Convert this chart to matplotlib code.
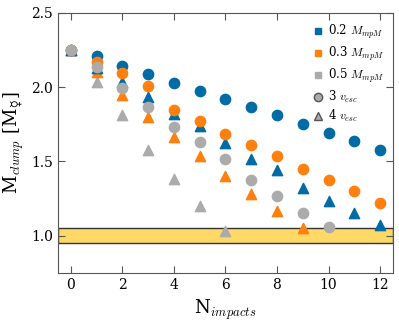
import numpy as np
import matplotlib.pyplot as plt
from matplotlib.lines import Line2D

plt.rcParams['font.family'] = 'DejaVu Serif'
plt.rcParams['mathtext.fontset'] = 'cm'

blue = '#006BA4'
orange = '#FF800E'
gray = '#ABABAB'

# 3 v_esc (circles)
n_c02 = np.arange(0, 13)
m_c02 = [2.25, 2.21, 2.14, 2.09, 2.03, 1.975, 1.917, 1.867, 1.81, 1.75, 1.69, 1.637, 1.579]
n_c03 = np.arange(0, 13)
m_c03 = [2.25, 2.17, 2.095, 2.007, 1.847, 1.772, 1.687, 1.61, 1.534, 1.45, 1.376, 1.302, 1.223]
n_c05 = np.arange(0, 11)
m_c05 = [2.25, 2.137, 1.995, 1.863, 1.732, 1.63, 1.514, 1.378, 1.27, 1.155, 1.056]

# 4 v_esc (triangles)
n_t02 = np.arange(0, 13)
m_t02 = [2.25, 2.13, 2.036, 1.935, 1.82, 1.736, 1.624, 1.518, 1.44, 1.32, 1.236, 1.15, 1.072]
n_t03 = np.arange(0, 10)
m_t03 = [2.25, 2.10, 1.946, 1.80, 1.664, 1.534, 1.40, 1.279, 1.164, 1.05]
n_t05 = np.arange(0, 7)
m_t05 = [2.25, 2.036, 1.815, 1.574, 1.383, 1.198, 1.034]

fig, ax = plt.subplots(figsize=(3.99, 3.21), dpi=100)
ax.axhspan(0.95, 1.05, facecolor='#FFD966', edgecolor='#333333', lw=1.0, zorder=0)

ms = 55
ax.scatter(n_t05, m_t05, marker='^', s=ms, color=gray, zorder=2)
ax.scatter(n_t03, m_t03, marker='^', s=ms, color=orange, zorder=2)
ax.scatter(n_t02, m_t02, marker='^', s=ms, color=blue, zorder=2)
ax.scatter(n_c02, m_c02, marker='o', s=ms, color=blue, zorder=3)
ax.scatter(n_c03, m_c03, marker='o', s=ms, color=orange, zorder=3)
ax.scatter(n_c05, m_c05, marker='o', s=ms, color=gray, zorder=3)

ax.set_xlim(-0.5, 12.5)
ax.set_ylim(0.75, 2.5)
ax.set_xticks([0, 2, 4, 6, 8, 10, 12])
ax.set_yticks([1.0, 1.5, 2.0, 2.5])
ax.tick_params(direction='in', top=True, right=True, labelsize=10, length=5, color='#555555')
for sp in ax.spines.values():
    sp.set_color('#555555')

ax.set_xlabel(r'N$_{impacts}$', fontsize=13)
ax.set_ylabel(r'M$_{clump}$ [M$_{☿}$]', fontsize=13)

handles = [
    Line2D([], [], ls='none', marker='s', ms=5, color=blue, label=r'0.2 $M_{mpM}$'),
    Line2D([], [], ls='none', marker='s', ms=5, color=orange, label=r'0.3 $M_{mpM}$'),
    Line2D([], [], ls='none', marker='s', ms=5, color=gray, label=r'0.5 $M_{mpM}$'),
    Line2D([], [], ls='none', marker='o', ms=6, color=gray, mec='#555555', label=r'3 $v_{esc}$'),
    Line2D([], [], ls='none', marker='^', ms=6, color=gray, mec='#555555', label=r'4 $v_{esc}$'),
]
ax.legend(handles=handles, loc='upper right', frameon=False, fontsize=8.5,
          handletextpad=0.3, borderaxespad=0.4, labelspacing=0.3, handlelength=1.0)

fig.subplots_adjust(left=0.145, right=0.985, top=0.96, bottom=0.15)
fig.savefig('out.png', dpi=100)
